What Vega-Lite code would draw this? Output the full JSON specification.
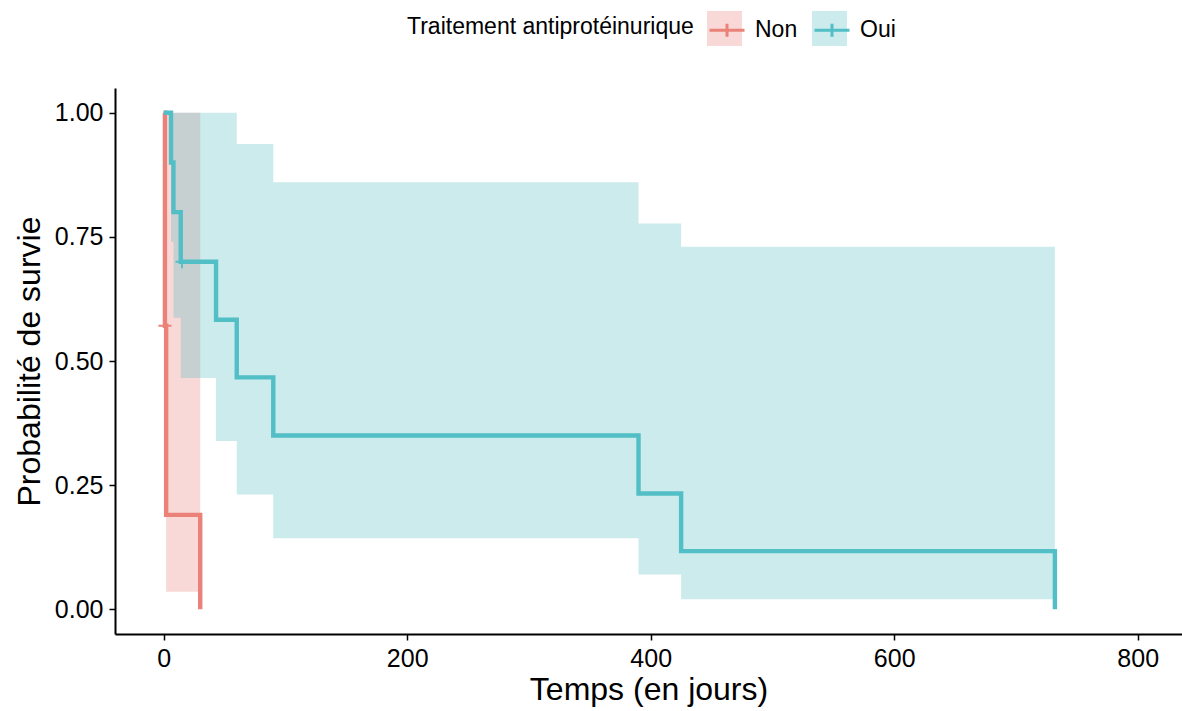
{
  "$schema": "https://vega.github.io/schema/vega-lite/v6.json",
  "width": 1067,
  "height": 546,
  "autosize": {"type": "none"},
  "padding": {"left": 115, "top": 88, "right": 0, "bottom": 77},
  "background": "white",
  "config": {
    "view": {"stroke": null},
    "font": "Liberation Sans",
    "axis": {
      "grid": false,
      "domainColor": "black",
      "domainWidth": 2,
      "tickColor": "black",
      "tickWidth": 1.5,
      "tickSize": 6,
      "labelColor": "black",
      "labelFontSize": 25,
      "labelFont": "Liberation Sans",
      "titleFont": "Liberation Sans",
      "titleFontSize": 32,
      "titleFontWeight": "normal",
      "titleColor": "black"
    }
  },
  "datasets": {
    "curves": [
      {"group": "Non", "time": 0, "surv": 1, "lower": 1, "upper": 1},
      {"group": "Non", "time": 1, "surv": 0.571, "lower": 0.29, "upper": 1},
      {"group": "Non", "time": 2, "surv": 0.19, "lower": 0.035, "upper": 1},
      {"group": "Non", "time": 30, "surv": 0, "lower": 0.035, "upper": 1},
      {"group": "Oui", "time": 0, "surv": 1, "lower": 1, "upper": 1},
      {"group": "Oui", "time": 6, "surv": 0.9, "lower": 0.74, "upper": 1},
      {"group": "Oui", "time": 8, "surv": 0.8, "lower": 0.587, "upper": 1},
      {"group": "Oui", "time": 14, "surv": 0.7, "lower": 0.466, "upper": 1},
      {"group": "Oui", "time": 43, "surv": 0.583, "lower": 0.339, "upper": 1},
      {"group": "Oui", "time": 60, "surv": 0.467, "lower": 0.231, "upper": 0.937},
      {"group": "Oui", "time": 90, "surv": 0.35, "lower": 0.143, "upper": 0.86},
      {"group": "Oui", "time": 390, "surv": 0.233, "lower": 0.07, "upper": 0.777},
      {"group": "Oui", "time": 425, "surv": 0.117, "lower": 0.02, "upper": 0.73},
      {"group": "Oui", "time": 732, "surv": 0, "lower": 0.02, "upper": 0.73}
    ],
    "censor": [
      {"group": "Non", "time": 1, "surv": 0.571},
      {"group": "Oui", "time": 15, "surv": 0.7}
    ]
  },
  "layer": [
    {
      "data": {"name": "curves"},
      "mark": {"type": "area", "interpolate": "step-after", "opacity": 0.3},
      "encoding": {
        "x": {"field": "time", "type": "quantitative", "scale": {"domain": [-40, 836.4], "nice": false, "zero": false},
              "axis": {"title": "Temps (en jours)", "values": [0, 200, 400, 600, 800], "labelPadding": 6, "titlePadding": 3}},
        "y": {"field": "lower", "type": "quantitative", "scale": {"domain": [-0.05, 1.05], "nice": false, "zero": false},
              "axis": {"title": "Probabilité de survie", "values": [0, 0.25, 0.5, 0.75, 1], "format": ".2f", "labelPadding": 6, "titlePadding": 8}},
        "y2": {"field": "upper"},
        "fill": {"field": "group", "type": "nominal",
                 "scale": {"domain": ["Non", "Oui"], "range": ["#EA8279", "#52BEC5"]},
                 "legend": {"title": null, "orient": "none", "legendX": 592, "legendY": -77,
                            "direction": "horizontal", "symbolType": "square", "symbolSize": 1225,
                            "symbolOpacity": 0.3, "symbolStrokeWidth": 0, "symbolStrokeColor": "transparent",
                            "labelExpr": "''", "labelFontSize": 23, "labelOffset": 0,
                            "columnPadding": 70, "padding": 0}}
      }
    },
    {
      "data": {"name": "curves"},
      "mark": {"type": "line", "interpolate": "step-after", "strokeWidth": 4.4},
      "encoding": {
        "x": {"field": "time", "type": "quantitative"},
        "y": {"field": "surv", "type": "quantitative"},
        "stroke": {"field": "group", "type": "nominal",
                   "scale": {"range": ["#EA8279", "#52BEC5"]},
                   "legend": {"title": "Traitement antiprotéinurique", "orient": "none", "legendX": 292, "legendY": -77,
                              "direction": "horizontal", "titleOrient": "left",
                              "symbolType": "M-1,0H1M0,-0.37V0.37", "symbolSize": 1225, "symbolStrokeWidth": 3,
                              "labelFontSize": 23, "titleFontSize": 23, "titleFontWeight": "normal",
                              "titleColor": "black", "labelColor": "black", "labelOffset": 9,
                              "columnPadding": 10, "titlePadding": 14, "padding": 0, "titleBaseline": "middle", "titleLimit": 600}}
      }
    },
    {
      "data": {"name": "censor"},
      "mark": {"type": "point", "shape": "M-1,0H1M0,-1V1", "filled": false, "size": 169, "strokeWidth": 1.8, "opacity": 1},
      "encoding": {
        "x": {"field": "time", "type": "quantitative"},
        "y": {"field": "surv", "type": "quantitative"},
        "stroke": {"field": "group", "type": "nominal"}
      }
    }
  ]
}
